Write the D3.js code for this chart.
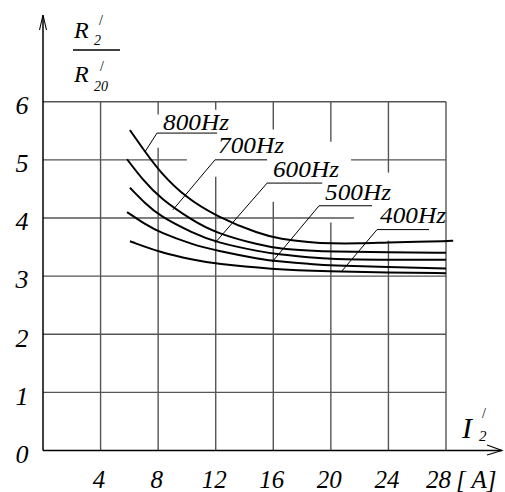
<!DOCTYPE html>
<html><head><meta charset="utf-8">
<script src="https://cdn.jsdelivr.net/npm/d3@7"></script>
<style>
html,body{margin:0;padding:0;background:#fff;}
svg text{font-family:"Times New Roman","Liberation Serif",Times,Tinos,"Noto Serif","DejaVu Serif","FreeSerif",serif !important;font-style:italic;fill:#000;}
svg text.up{font-style:normal;}
</style></head>
<body><svg id="c" width="505" height="492"></svg>
<script>
// ---- data ----
const xTicks = [4, 8, 12, 16, 20, 24, 28];
const yTicks = [0, 1, 2, 3, 4, 5, 6];
const seriesNames = ["800Hz", "700Hz", "600Hz", "500Hz", "400Hz"];
const x800 = [6.04, 7.09, 8.13, 9.87, 12.02, 15.08, 16.47, 18.55, 19.94, 22, 23.97, 26, 28, 28.5];
const y800 = [5.51, 5.14, 4.79, 4.36, 4.03, 3.72, 3.64, 3.58, 3.56, 3.56, 3.58, 3.59, 3.60, 3.61];
const x700 = [5.84, 6.95, 8.13, 10.42, 12.02, 15.08, 16.47, 18.55, 19.94, 23.97, 28];
const y700 = [5.01, 4.65, 4.34, 3.95, 3.74, 3.53, 3.47, 3.44, 3.42, 3.41, 3.40];
const x600 = [6.04, 7.1, 8.13, 10.42, 12.02, 15.08, 16.47, 18.55, 19.94, 23.97, 28];
const y600 = [4.52, 4.25, 4.03, 3.74, 3.58, 3.42, 3.37, 3.32, 3.29, 3.28, 3.28];
const x500 = [5.84, 7.1, 8.13, 10.42, 12.02, 15.08, 16.47, 18.55, 19.94, 23.97, 28];
const y500 = [4.10, 3.89, 3.75, 3.54, 3.44, 3.29, 3.25, 3.21, 3.18, 3.16, 3.13];
const x400 = [6.04, 8.13, 10.42, 12.02, 15.8, 19.94, 23.97, 28];
const y400 = [3.60, 3.41, 3.28, 3.21, 3.12, 3.08, 3.06, 3.05];

// label annotations (data units): text anchor, underline y & x-range, leader end
const labelTx  = [8.34, 12.16, 15.98, 19.6, 23.42];
const labelTy  = [5.52, 5.12, 4.71, 4.31, 3.92];
const ulY      = [5.46, 5.0, 4.60, 4.21, 3.80];
const ulX0     = [7.92, 11.95, 15.57, 19.18, 23.21];
const ulX1     = [12.1, 15.57, 19.4, 22.86, 26.82];
const leadX    = [7.09, 9.03, 11.95, 15.91, 20.71];
const leadY    = [5.14, 4.14, 3.57, 3.24, 3.07];

// grid segments (gaps left around the labels)
const vGrid = [
  {x: 4,  segs: [[0, 6]]},
  {x: 8,  segs: [[0, 5.21], [5.78, 6]]},
  {x: 12, segs: [[0, 4.71], [5.86, 6]]},
  {x: 16, segs: [[0, 4.28], [5.52, 6]]},
  {x: 20, segs: [[0, 3.92], [5.31, 6]]},
  {x: 24, segs: [[0, 3.61], [4.78, 6]]},
  {x: 28, segs: [[0, 6]]}
];
const hGrid = [
  {y: 1, segs: [[0, 28]]},
  {y: 2, segs: [[0, 28]]},
  {y: 3, segs: [[0, 28]]},
  {y: 4, segs: [[0, 21.6]]},
  {y: 5, segs: [[0, 10.0], [21.4, 28]]},
  {y: 6, segs: [[0, 28]]}
];

// ---- drawing ----
const svg = d3.select("#c");
const x = d3.scaleLinear().domain([0, 28]).range([43, 446]);
const y = d3.scaleLinear().domain([0, 6]).range([450.5, 101.7]);

const g = svg.append("g");
vGrid.forEach(v => v.segs.forEach(s => {
  g.append("line").attr("x1", x(v.x)).attr("x2", x(v.x)).attr("y1", y(s[0])).attr("y2", y(s[1]))
    .attr("stroke", "#555").attr("stroke-width", 1.4);
}));
hGrid.forEach(h => h.segs.forEach(s => {
  g.append("line").attr("x1", x(s[0])).attr("x2", x(s[1])).attr("y1", y(h.y)).attr("y2", y(h.y))
    .attr("stroke", "#555").attr("stroke-width", 1.4);
}));

g.append("line").attr("x1", x(0)).attr("x2", 502).attr("y1", y(0)).attr("y2", y(0)).attr("stroke", "#000").attr("stroke-width", 1.5);
g.append("polyline").attr("points", `487,445 502,${y(0)} 487,455`).attr("fill", "none").attr("stroke", "#000").attr("stroke-width", 1.1);
g.append("line").attr("x1", x(0)).attr("x2", x(0)).attr("y1", y(0)).attr("y2", 15).attr("stroke", "#000").attr("stroke-width", 1.5);
g.append("polyline").attr("points", `39.5,30 ${x(0)},15 46.5,30`).attr("fill", "none").attr("stroke", "#000").attr("stroke-width", 1.1);

const xAxis = svg.append("g").attr("transform", `translate(0,${y(0)})`)
  .call(d3.axisBottom(x).tickValues(xTicks).tickSize(0).tickPadding(0).tickFormat(d3.format("d")));
xAxis.attr("font-family", null).attr("font-size", null);
xAxis.select(".domain").remove();
xAxis.selectAll("text").attr("y", 37).attr("dy", 0).attr("font-size", 25)
  .attr("dx", d => d === 28 ? -8 : -2);
svg.append("text").attr("x", 456).attr("y", 488).attr("font-size", 25).text("[ A]");

const yAxis = svg.append("g").attr("transform", `translate(${x(0)},0)`)
  .call(d3.axisLeft(y).tickValues(yTicks).tickSize(0).tickPadding(0).tickFormat(d3.format("d")));
yAxis.attr("font-family", null).attr("font-size", null);
yAxis.select(".domain").remove();
yAxis.selectAll("text").attr("x", -21).attr("text-anchor", "middle").attr("dy", "0.38em").attr("font-size", 26)
  .attr("transform", "translate(0,2)");

const xsAll = [x800, x700, x600, x500, x400];
const ysAll = [y800, y700, y600, y500, y400];
const line = d3.line().x(d => x(d[0])).y(d => y(d[1])).curve(d3.curveBasis);
xsAll.forEach((xs, i) => {
  const pts = xs.map((v, j) => [v, ysAll[i][j]]);
  svg.append("path").attr("d", line(pts)).attr("fill", "none").attr("stroke", "#000").attr("stroke-width", 2);
});

seriesNames.forEach((n, i) => {
  svg.append("polyline")
    .attr("points", `${x(leadX[i])},${y(leadY[i])} ${x(ulX0[i])},${y(ulY[i])} ${x(ulX1[i])},${y(ulY[i])}`)
    .attr("fill", "none").attr("stroke", "#000").attr("stroke-width", 1);
  svg.append("text").attr("x", x(labelTx[i])).attr("y", y(labelTy[i])).attr("font-size", 23)
    .attr("textLength", 66).attr("lengthAdjust", "spacingAndGlyphs").text(n);
});

const yt = svg.append("g");
yt.append("text").attr("x", 74).attr("y", 38).attr("font-size", 24).text("R");
yt.append("text").attr("x", 94).attr("y", 45).attr("font-size", 14).text("2");
yt.append("text").attr("class", "up").attr("x", 99).attr("y", 25).attr("font-size", 14).text("/");
yt.append("line").attr("x1", 73).attr("x2", 120).attr("y1", 50).attr("y2", 50).attr("stroke", "#000").attr("stroke-width", 1.5);
yt.append("text").attr("x", 74).attr("y", 82).attr("font-size", 24).text("R");
yt.append("text").attr("x", 94).attr("y", 91).attr("font-size", 14).text("20");
yt.append("text").attr("class", "up").attr("x", 100).attr("y", 71).attr("font-size", 14).text("/");

svg.append("text").attr("x", 462).attr("y", 438).attr("font-size", 30).text("I");
svg.append("text").attr("x", 479).attr("y", 441).attr("font-size", 15).text("2");
svg.append("text").attr("class", "up").attr("x", 482).attr("y", 418).attr("font-size", 14).text("/");
</script></body></html>
